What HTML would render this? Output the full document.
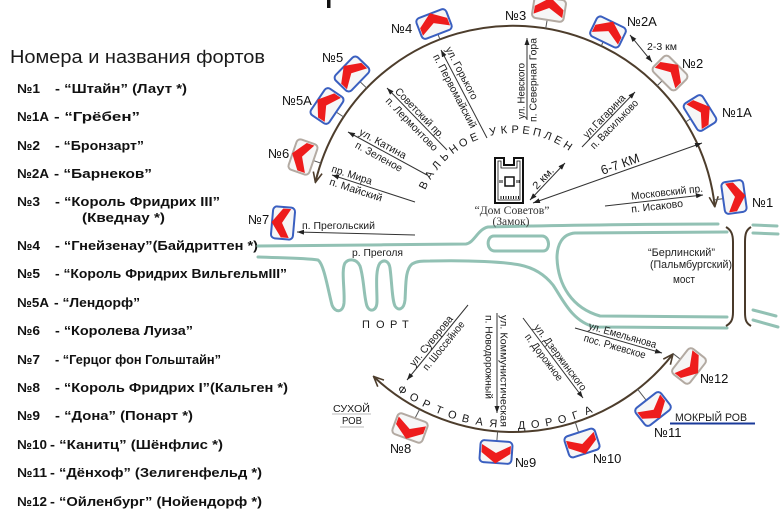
<!DOCTYPE html>
<html><head><meta charset="utf-8">
<style>
html,body{margin:0;padding:0;background:#fff}
svg{display:block}
text{font-family:"Liberation Sans","DejaVu Sans",sans-serif;fill:#1a1a1a}
.lg{font-size:13px;font-weight:bold;fill:#111}
.s{font-size:10.5px}
.fl{font-size:13px;fill:#111}
.ser{font-family:"Liberation Serif","DejaVu Serif",serif;font-size:11.5px;fill:#333}
.ar{font-size:11px;fill:#222}
</style></head><body>
<svg width="783" height="518" viewBox="0 0 783 518" xmlns="http://www.w3.org/2000/svg">
<defs>
<marker id="a" markerUnits="userSpaceOnUse" markerWidth="7" markerHeight="5" viewBox="0 0 7 5" refX="7" refY="2.5" orient="auto-start-reverse"><path d="M0,0L7,2.5L0,5Z" fill="#222"/></marker>
<marker id="b" markerUnits="userSpaceOnUse" markerWidth="12" markerHeight="12" viewBox="0 0 12 12" refX="11" refY="6" orient="auto-start-reverse"><path d="M1,1.5L11,6L1,10.5" fill="none" stroke="#4d3d2c" stroke-width="1.6"/></marker>
<g id="fB"><rect x="-16" y="-11" width="32" height="22" rx="4" fill="#f6f6f6" stroke="#3a5fc0" stroke-width="2"/><path d="M-14.5,-1L0,-11.5L14.5,-1L14.5,7L0,-1L-14.5,7Z" fill="#ee1c1c"/></g>
<g id="fG"><rect x="-16" y="-11" width="32" height="22" rx="4" fill="#f6f6f6" stroke="#b3aaa2" stroke-width="2"/><path d="M-14.5,-1L0,-11.5L14.5,-1L14.5,7L0,-1L-14.5,7Z" fill="#ee1c1c"/></g>
</defs>

<rect x="327" y="0" width="3.5" height="8" fill="#111"/>

<!-- Legend -->
<text x="10" y="63" font-size="18" fill="#222" textLength="255" lengthAdjust="spacingAndGlyphs">Номера и названия фортов</text>
<g class="lg">
<text class="lg" x="17" y="93" textLength="23" lengthAdjust="spacingAndGlyphs">№1</text><text class="lg" x="55" y="93" textLength="132" lengthAdjust="spacingAndGlyphs">- “Штайн” (Лаут *)</text>
<text class="lg" x="17" y="121" textLength="32" lengthAdjust="spacingAndGlyphs">№1A</text><text class="lg" x="54" y="121" textLength="86" lengthAdjust="spacingAndGlyphs">- “Грёбен”</text>
<text class="lg" x="17" y="150" textLength="23" lengthAdjust="spacingAndGlyphs">№2</text><text class="lg" x="55" y="150" textLength="89" lengthAdjust="spacingAndGlyphs">- “Бронзарт”</text>
<text class="lg" x="17" y="178" textLength="32" lengthAdjust="spacingAndGlyphs">№2A</text><text class="lg" x="54" y="178" textLength="98" lengthAdjust="spacingAndGlyphs">- “Барнеков”</text>
<text class="lg" x="17" y="206" textLength="23" lengthAdjust="spacingAndGlyphs">№3</text><text class="lg" x="55" y="206" textLength="165" lengthAdjust="spacingAndGlyphs">- “Король Фридрих III”</text>
<text class="lg" x="82" y="222" textLength="83" lengthAdjust="spacingAndGlyphs">(Кведнау *)</text>
<text class="lg" x="17" y="250" textLength="23" lengthAdjust="spacingAndGlyphs">№4</text><text class="lg" x="55" y="250" textLength="203" lengthAdjust="spacingAndGlyphs">- “Гнейзенау”(Байдриттен *)</text>
<text class="lg" x="17" y="278" textLength="23" lengthAdjust="spacingAndGlyphs">№5</text><text class="lg" x="55" y="278" textLength="232" lengthAdjust="spacingAndGlyphs">- “Король Фридрих ВильгельмIII”</text>
<text class="lg" x="17" y="307" textLength="32" lengthAdjust="spacingAndGlyphs">№5A</text><text class="lg" x="54" y="307" textLength="86" lengthAdjust="spacingAndGlyphs">- “Лендорф”</text>
<text class="lg" x="17" y="335" textLength="23" lengthAdjust="spacingAndGlyphs">№6</text><text class="lg" x="55" y="335" textLength="138" lengthAdjust="spacingAndGlyphs">- “Королева Луиза”</text>
<text class="lg" x="17" y="364" textLength="23" lengthAdjust="spacingAndGlyphs">№7</text><text class="lg" x="55" y="364" textLength="166" lengthAdjust="spacingAndGlyphs">- “Герцог фон Гольштайн”</text>
<text class="lg" x="17" y="392" textLength="23" lengthAdjust="spacingAndGlyphs">№8</text><text class="lg" x="55" y="392" textLength="233" lengthAdjust="spacingAndGlyphs">- “Король Фридрих I”(Кальген *)</text>
<text class="lg" x="17" y="420" textLength="23" lengthAdjust="spacingAndGlyphs">№9</text><text class="lg" x="55" y="420" textLength="138" lengthAdjust="spacingAndGlyphs">- “Дона” (Понарт *)</text>
<text class="lg" x="17" y="449" textLength="30" lengthAdjust="spacingAndGlyphs">№10</text><text class="lg" x="50" y="449" textLength="173" lengthAdjust="spacingAndGlyphs">- “Канитц” (Шёнфлис *)</text>
<text class="lg" x="17" y="477" textLength="30" lengthAdjust="spacingAndGlyphs">№11</text><text class="lg" x="50" y="477" textLength="212" lengthAdjust="spacingAndGlyphs">- “Дёнхоф” (Зелигенфельд *)</text>
<text class="lg" x="17" y="506" textLength="30" lengthAdjust="spacingAndGlyphs">№12</text><text class="lg" x="50" y="506" textLength="212" lengthAdjust="spacingAndGlyphs">- “Ойленбург” (Нойендорф *)</text>
</g>

<!-- Rivers -->
<g fill="none" stroke="#92c1b4" stroke-width="3" stroke-linecap="round" stroke-linejoin="round">
<path d="M258,246 C300,245 400,245 466,244 C474,243 478,229 488,227 C520,226 640,224 718,224"/>
<path d="M258,257 C285,258 305,258 318,260 C324,264 328,290 332,305 C335,313 343,313 344,303 C345,290 341,270 345,263 C349,258 357,259 360,266 C364,278 364,298 367,306 C370,313 377,311 377,301 C377,288 375,270 380,263 C384,259 389,261 390,268 C392,283 392,300 395,306 C398,311 404,310 405,300 C406,285 405,270 412,264 C417,261 422,261 430,261 C470,260 505,262 520,265 C535,268 545,275 553,285 C562,298 572,322 595,327 L727,328"/>
<path d="M494,236 L542,236 C550,236 551,251 543,251 L495,251 C486,251 486,236 494,236 Z"/>
<path d="M727,232 L575,233 C562,234 557,245 557,258 C558,285 572,308 600,316 L727,317"/>
<path d="M753,225 L777,226"/>
<path d="M753,233 L778,234"/>
<path d="M753,310 L776,316"/>
<path d="M753,320 L778,327"/>
</g>
<!-- Bridge -->
<g fill="none" stroke="#4a3a2a" stroke-width="2">
<path d="M726,227 C731,230 733,234 733,242 L733,312 C733,320 731,323 726,326"/>
<path d="M751,227 C746,230 745,234 745,242 L745,312 C745,320 746,323 751,326"/>
</g>
<text class="ar" x="648" y="256" textLength="67" lengthAdjust="spacingAndGlyphs">“Берлинский”</text>
<text class="ar" x="650" y="268" textLength="82" lengthAdjust="spacingAndGlyphs">(Пальмбургский)</text>
<text class="ar" x="673" y="283" textLength="22" lengthAdjust="spacingAndGlyphs">мост</text>

<!-- Ring arcs -->
<g fill="none" stroke="#4d3d2c" stroke-width="2">
<path d="M315.4,182.3 A203,203 0 0 1 714.8,206.7" marker-start="url(#b)" marker-end="url(#b)"/>
<path d="M673,354 A203,203 0 0 1 373.6,376.5" marker-start="url(#b)" marker-end="url(#b)"/>
</g>

<!-- Fort connectors -->
<g stroke="#555" stroke-width="1">
<line x1="440" y1="39.6" x2="434" y2="24"/>
<line x1="545.7" y1="28.6" x2="549" y2="9"/>
<line x1="601.1" y1="46.1" x2="608" y2="32"/>
<line x1="657" y1="85.9" x2="670" y2="73"/>
<line x1="685.5" y1="122" x2="700" y2="113"/>
<line x1="714" y1="200" x2="734" y2="197"/>
<line x1="366.8" y1="88.2" x2="352" y2="74"/>
<line x1="343.7" y1="117" x2="327" y2="106"/>
<line x1="321" y1="163.2" x2="303" y2="157"/>
<line x1="419.6" y1="409.3" x2="410" y2="428"/>
<line x1="497.6" y1="431.5" x2="496" y2="452"/>
<line x1="575.3" y1="422.2" x2="582" y2="443"/>
<line x1="637.6" y1="389.2" x2="653" y2="409"/>
<line x1="673.2" y1="353.7" x2="689" y2="366"/>
</g>

<!-- Forts -->
<use href="#fB" transform="translate(434,24) rotate(-21)"/>
<use href="#fG" transform="translate(549,9) rotate(9)"/>
<use href="#fB" transform="translate(608,32) rotate(26)"/>
<use href="#fG" transform="translate(670,73) rotate(45)"/>
<use href="#fB" transform="translate(700,113) rotate(58)"/>
<use href="#fB" transform="translate(734,197) rotate(82)"/>
<use href="#fB" transform="translate(352,74) rotate(-46)"/>
<use href="#fB" transform="translate(327,106) rotate(-56)"/>
<use href="#fG" transform="translate(303,157) rotate(-71)"/>
<use href="#fB" transform="translate(283,223) rotate(-85)"/>
<use href="#fG" transform="translate(410,428) rotate(200)"/>
<use href="#fB" transform="translate(496,452) rotate(184)"/>
<use href="#fB" transform="translate(582,443) rotate(162)"/>
<use href="#fB" transform="translate(653,409) rotate(142)"/>
<use href="#fG" transform="translate(689,366) rotate(128)"/>

<!-- Fort labels -->
<text class="fl" x="391" y="33">№4</text>
<text class="fl" x="505" y="20">№3</text>
<text class="fl" x="627" y="26">№2A</text>
<text class="fl" x="682" y="68">№2</text>
<text class="fl" x="722" y="117">№1A</text>
<text class="fl" x="752" y="207">№1</text>
<text class="fl" x="322" y="62">№5</text>
<text class="fl" x="282" y="105">№5A</text>
<text class="fl" x="268" y="158">№6</text>
<text class="fl" x="248" y="224">№7</text>
<text class="fl" x="390" y="453">№8</text>
<text class="fl" x="515" y="467">№9</text>
<text class="fl" x="593" y="463">№10</text>
<text class="fl" x="654" y="437">№11</text>
<text class="fl" x="700" y="383">№12</text>

<!-- Street lines -->
<g stroke="#333" stroke-width="1" fill="none">
<line x1="487" y1="138" x2="441" y2="50" marker-end="url(#a)"/>
<line x1="527" y1="120" x2="527" y2="38" marker-end="url(#a)"/>
<line x1="582" y1="147" x2="635" y2="92" marker-end="url(#a)"/>
<line x1="533" y1="203" x2="702" y2="143" marker-start="url(#a)" marker-end="url(#a)"/>
<line x1="530" y1="200" x2="565" y2="163" marker-start="url(#a)" marker-end="url(#a)"/>
<line x1="605" y1="206" x2="703" y2="195" marker-end="url(#a)"/>
<line x1="447" y1="150" x2="387" y2="88" marker-end="url(#a)"/>
<line x1="427" y1="175" x2="348" y2="132" marker-end="url(#a)"/>
<line x1="415" y1="202" x2="332" y2="175" marker-end="url(#a)"/>
<line x1="415" y1="235" x2="297" y2="232" marker-end="url(#a)"/>
<line x1="468" y1="305" x2="407" y2="380" marker-end="url(#a)"/>
<line x1="497" y1="313" x2="497" y2="413" marker-end="url(#a)"/>
<line x1="523" y1="318" x2="583" y2="398" marker-end="url(#a)"/>
<line x1="575" y1="328" x2="662" y2="353" marker-end="url(#a)"/>
<line x1="630" y1="35" x2="652" y2="62" marker-start="url(#a)" marker-end="url(#a)"/>
</g>

<!-- Street labels -->
<g class="s" text-anchor="middle">
<text class="s" transform="translate(462,73) rotate(62.4)" dy="3.7" textLength="58" lengthAdjust="spacingAndGlyphs">ул. Горького</text>
<text class="s" transform="translate(455,91) rotate(62.4)" dy="3.7" textLength="82" lengthAdjust="spacingAndGlyphs">п. Первомайский</text>
<text class="s" transform="translate(521,91) rotate(-90)" dy="3.7" textLength="56" lengthAdjust="spacingAndGlyphs">ул. Невского</text>
<text class="s" transform="translate(533,80) rotate(-90)" dy="3.7" textLength="84" lengthAdjust="spacingAndGlyphs">п. Северная Гора</text>
<text class="s" transform="translate(604,116) rotate(-46)" dy="3.7" textLength="56" lengthAdjust="spacingAndGlyphs">ул.Гагарина</text>
<text class="s" transform="translate(614,124) rotate(-46)" dy="3.7" textLength="64" lengthAdjust="spacingAndGlyphs">п. Васильково</text>
<text transform="translate(620,164) rotate(-19.5)" dy="4.5" font-size="13" textLength="40" lengthAdjust="spacingAndGlyphs">6-7 КМ</text>
<text class="s" transform="translate(543,178) rotate(-46.6)" dy="3.7" textLength="26" lengthAdjust="spacingAndGlyphs">2 км.</text>
<text class="s" transform="translate(667,192) rotate(-6.4)" dy="3.7" textLength="72" lengthAdjust="spacingAndGlyphs">Московский пр.</text>
<text class="s" transform="translate(657,206) rotate(-6.4)" dy="3.7" textLength="52" lengthAdjust="spacingAndGlyphs">п. Исаково</text>
<text class="s" transform="translate(420,113) rotate(45.9)" dy="3.7" textLength="66" lengthAdjust="spacingAndGlyphs">Советский пр.</text>
<text class="s" transform="translate(412,124) rotate(45.9)" dy="3.7" textLength="70" lengthAdjust="spacingAndGlyphs">п. Лермонтово</text>
<text class="s" transform="translate(383,143.5) rotate(28.6)" dy="3.7" textLength="52" lengthAdjust="spacingAndGlyphs">ул. Катина</text>
<text class="s" transform="translate(379,156.4) rotate(28.6)" dy="3.7" textLength="52" lengthAdjust="spacingAndGlyphs">п. Зеленое</text>
<text class="s" transform="translate(352,174.7) rotate(18)" dy="3.7" textLength="42" lengthAdjust="spacingAndGlyphs">пр. Мира</text>
<text class="s" transform="translate(356,189.6) rotate(18)" dy="3.7" textLength="55" lengthAdjust="spacingAndGlyphs">п. Майский</text>
<text class="s" transform="translate(431,340.7) rotate(-50.9)" dy="3.7" textLength="62" lengthAdjust="spacingAndGlyphs">ул. Суворова</text>
<text class="s" transform="translate(443.4,345.5) rotate(-50.9)" dy="3.7" textLength="60" lengthAdjust="spacingAndGlyphs">п. Шоссейное</text>
<text class="s" transform="translate(504,371) rotate(90)" dy="3.7" textLength="112" lengthAdjust="spacingAndGlyphs">ул. Коммунистическая</text>
<text class="s" transform="translate(489,357) rotate(90)" dy="3.7" textLength="84" lengthAdjust="spacingAndGlyphs">п. Новодорожный</text>
<text class="s" transform="translate(560.6,357.3) rotate(53.1)" dy="3.7" textLength="80" lengthAdjust="spacingAndGlyphs">ул. Дзержинского</text>
<text class="s" transform="translate(544.2,357.1) rotate(53.1)" dy="3.7" textLength="56" lengthAdjust="spacingAndGlyphs">п. Дорожное</text>
<text class="s" transform="translate(622.7,335) rotate(16)" dy="3.7" textLength="70" lengthAdjust="spacingAndGlyphs">ул. Емельянова</text>
<text class="s" transform="translate(614.9,346.2) rotate(16)" dy="3.7" textLength="64" lengthAdjust="spacingAndGlyphs">пос. Ржевское</text>
</g>
<text class="s" x="302" y="229" textLength="73" lengthAdjust="spacingAndGlyphs">п. Прегольский</text>
<text class="s" x="352" y="256" textLength="51" lengthAdjust="spacingAndGlyphs">р. Преголя</text>
<text x="647" y="50" font-size="10" textLength="30" lengthAdjust="spacingAndGlyphs">2-3 км</text>

<!-- Castle -->
<g fill="none" stroke="#111">
<path d="M495,203 L495,158 L504,158 L504,165 L514,165 L514,158 L523,158 L523,203 Z" stroke-width="2"/>
<path d="M498,200 L498,161 L501,161 L501,168 L517,168 L517,161 L520,161 L520,200 Z" stroke-width="0.8"/>
<rect x="505" y="177" width="9" height="9" stroke-width="1.5"/>
<path d="M500,180 v3 M502,180 v3 M517,180 v3 M519,180 v3 M501,196 v3 M503.5,196 v3 M506,196 v3 M508.5,196 v3 M511,196 v3 M513.5,196 v3 M516,196 v3 M518.5,196 v3" stroke-width="1"/>
</g>
<text class="ser" x="512" y="214" text-anchor="middle" textLength="75" lengthAdjust="spacingAndGlyphs">“Дом Советов”</text>
<text class="ser" x="511" y="225" text-anchor="middle" textLength="37" lengthAdjust="spacingAndGlyphs">(Замок)</text>

<!-- ВАЛЬНОЕ УКРЕПЛЕН -->
<g font-size="11" text-anchor="middle" fill="#222">
<text transform="translate(513,229) rotate(-63.9)" y="-100" dy="4">В</text>
<text transform="translate(513,229) rotate(-57.1)" y="-100" dy="4">А</text>
<text transform="translate(513,229) rotate(-50.3)" y="-100" dy="4">Л</text>
<text transform="translate(513,229) rotate(-43.5)" y="-100" dy="4">Ь</text>
<text transform="translate(513,229) rotate(-36.7)" y="-100" dy="4">Н</text>
<text transform="translate(513,229) rotate(-29.9)" y="-100" dy="4">О</text>
<text transform="translate(513,229) rotate(-23.1)" y="-100" dy="4">Е</text>
<text transform="translate(513,229) rotate(-11.7)" y="-100" dy="4">У</text>
<text transform="translate(513,229) rotate(-5.3)" y="-100" dy="4">К</text>
<text transform="translate(513,229) rotate(1.2)" y="-100" dy="4">Р</text>
<text transform="translate(513,229) rotate(7.6)" y="-100" dy="4">Е</text>
<text transform="translate(513,229) rotate(14)" y="-100" dy="4">П</text>
<text transform="translate(513,229) rotate(20.5)" y="-100" dy="4">Л</text>
<text transform="translate(513,229) rotate(26.9)" y="-100" dy="4">Е</text>
<text transform="translate(513,229) rotate(33.4)" y="-100" dy="4">Н</text>
</g>

<!-- ФОРТОВАЯ ДОРОГА -->
<g font-size="11" text-anchor="middle" fill="#222">
<text transform="translate(513,229) rotate(34.5)" y="195" dy="4">Ф</text>
<text transform="translate(513,229) rotate(30.4)" y="195" dy="4">О</text>
<text transform="translate(513,229) rotate(26.3)" y="195" dy="4">Р</text>
<text transform="translate(513,229) rotate(22.2)" y="195" dy="4">Т</text>
<text transform="translate(513,229) rotate(18.1)" y="195" dy="4">О</text>
<text transform="translate(513,229) rotate(14)" y="195" dy="4">В</text>
<text transform="translate(513,229) rotate(9.9)" y="195" dy="4">А</text>
<text transform="translate(513,229) rotate(5.8)" y="195" dy="4">Я</text>
<text transform="translate(513,229) rotate(-2.5)" y="196" dy="4">Д</text>
<text transform="translate(513,229) rotate(-6.5)" y="196" dy="4">О</text>
<text transform="translate(513,229) rotate(-10.5)" y="196" dy="4">Р</text>
<text transform="translate(513,229) rotate(-14.5)" y="196" dy="4">О</text>
<text transform="translate(513,229) rotate(-18.5)" y="196" dy="4">Г</text>
<text transform="translate(513,229) rotate(-22.5)" y="196" dy="4">А</text>
</g>

<!-- ПОРТ -->
<g font-size="11" fill="#222">
<text x="362" y="328">П</text><text x="376" y="328">О</text><text x="390" y="328">Р</text><text x="402" y="328">Т</text>
</g>

<!-- Moats -->
<text x="333" y="412" font-size="10" fill="#a8a8a8" textLength="37" lengthAdjust="spacingAndGlyphs">СУХОЙ</text>
<line x1="332" y1="414" x2="371" y2="414" stroke="#bbb" stroke-width="1"/>
<text x="342" y="424" font-size="10" fill="#a8a8a8" textLength="20" lengthAdjust="spacingAndGlyphs">РОВ</text>
<line x1="340" y1="427" x2="364" y2="427" stroke="#bbb" stroke-width="1"/>
<text x="675" y="421" font-size="11" fill="#2a4fb0" textLength="72" lengthAdjust="spacingAndGlyphs">МОКРЫЙ РОВ</text>
<line x1="670" y1="423.5" x2="755" y2="423.5" stroke="#1a3a9a" stroke-width="2"/>
</svg>
</body></html>
